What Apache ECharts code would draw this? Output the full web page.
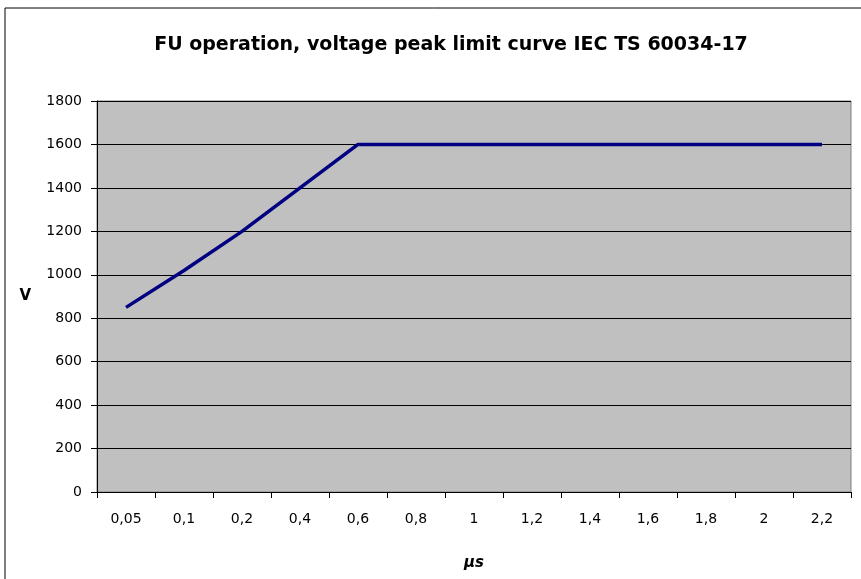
<!DOCTYPE html>
<html>
<head>
<meta charset="utf-8">
<script src="https://cdn.jsdelivr.net/npm/echarts@6/dist/echarts.min.js"></script>
<style>
  html, body { margin: 0; padding: 0; background: #fff; }
  #chart { width: 861px; height: 579px; }
</style>
</head>
<body>
<div id="chart"></div>
<script>
// x categories (µs) and peak voltage values (V)
const categories = ['0,05', '0,1', '0,2', '0,4', '0,6', '0,8', '1', '1,2', '1,4', '1,6', '1,8', '2', '2,2']
const voltage = [850, 1020, 1200, 1400, 1600, 1600, 1600, 1600, 1600, 1600, 1600, 1600, 1600]
const yTicks = [0, 200, 400, 600, 800, 1000, 1200, 1400, 1600, 1800]

const myChart = echarts.init(document.getElementById('chart'))

const options = {
    animation: false,
    textStyle: { fontFamily: 'DejaVu Sans, sans-serif' },
    // outer frame of the chart
    graphic: [
        {
            type: 'rect',
            shape: { x: 5, y: 8, width: 870, height: 590 },
            style: { fill: 'none', stroke: '#000', lineWidth: 1 },
            silent: true
        }
    ],
    title: {
        text: 'FU operation, voltage peak limit curve IEC TS 60034-17',
        left: 446,
        top: 31,
        textAlign: 'center',
        textStyle: { fontSize: 19, fontWeight: 'bold', color: '#000', fontFamily: 'DejaVu Sans' }
    },
    grid: {
        left: 97,
        right: 10,
        top: 101,
        bottom: 87,
        show: true,
        backgroundColor: '#c0c0c0',
        borderColor: '#808080',
        borderWidth: 1
    },
    xAxis: {
        type: 'category',
        data: categories,
        boundaryGap: true,
        name: 'µs',
        nameLocation: 'middle',
        nameGap: 64,
        nameTextStyle: { fontSize: 15, fontWeight: 'bold', fontStyle: 'italic', color: '#000' },
        axisLine: { lineStyle: { color: '#000', width: 1 } },
        axisTick: { show: true, alignWithLabel: false, length: 6, lineStyle: { color: '#000' } },
        axisLabel: { color: '#000', fontSize: 14, margin: 20, interval: 0 },
        splitLine: { show: false }
    },
    yAxis: {
        type: 'value',
        min: yTicks[0],
        max: yTicks[yTicks.length - 1],
        interval: 200,
        name: 'V',
        nameLocation: 'middle',
        nameRotate: 0,
        nameGap: 66,
        nameTextStyle: { fontSize: 15, fontWeight: 'bold', color: '#000' },
        axisLine: { show: true, lineStyle: { color: '#000', width: 1 } },
        axisTick: { show: true, length: 6, lineStyle: { color: '#000' } },
        axisLabel: { color: '#000', fontSize: 14, margin: 15, formatter: (v) => String(v) },
        splitLine: { show: true, lineStyle: { color: '#000', width: 1 } }
    },
    series: [
        {
            type: 'line',
            data: voltage,
            symbol: 'none',
            lineStyle: { color: '#000080', width: 3.5 },
            z: 5
        }
    ]
}

myChart.setOption(options)
</script>
</body>
</html>
